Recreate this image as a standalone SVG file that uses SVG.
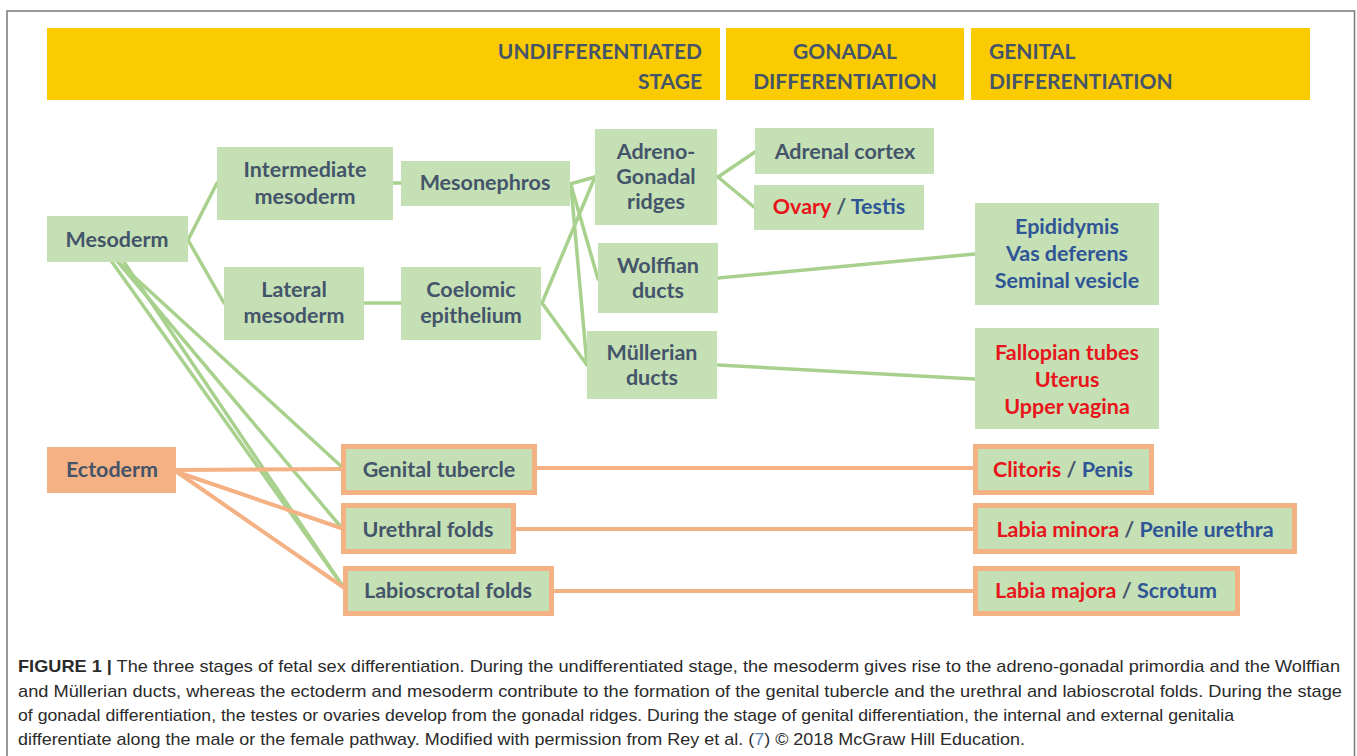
<svg xmlns="http://www.w3.org/2000/svg" width="1357" height="756" viewBox="0 0 1357 756">
<style>
.bg{fill:#ffffff}
.frame{fill:none;stroke:#7a7a7a;stroke-width:1.5}
.hdr{fill:#F9CB00}
.ht{font-family:Lato,'Liberation Sans',sans-serif;font-weight:700;font-size:21px;fill:#44546A}
.box{fill:#C5E0B4}
.obox{fill:#C5E0B4;stroke:#F4B183;stroke-width:5}
.ecto{fill:#F4B183}
.t{font-family:Lato,'Liberation Sans',sans-serif;font-weight:700;font-size:21.5px;fill:#44546A;text-anchor:middle}
.r{fill:#E8141B}
.b{fill:#2F5597}
.gl line{stroke:#A9D18E;stroke-width:3.5;stroke-linecap:round}
.ol line{stroke:#F4B183;stroke-width:4;stroke-linecap:round}
.cap{font-family:'Liberation Sans',Arial,sans-serif;font-size:17px;fill:#2a2a2a}
.cb{font-weight:700}
</style>
<rect class="bg" x="0" y="0" width="1357" height="756"/>
<rect class="frame" x="7" y="11" width="1347.5" height="760"/>

<g id="header">
  <rect class="hdr" x="47" y="28" width="673" height="72"/>
  <rect class="hdr" x="726" y="28" width="238" height="72"/>
  <rect class="hdr" x="971" y="28" width="339" height="72"/>
  <text class="ht" x="702" y="59" text-anchor="end">UNDIFFERENTIATED</text>
  <text class="ht" x="702" y="89" text-anchor="end">STAGE</text>
  <text class="ht" x="845" y="59" text-anchor="middle">GONADAL</text>
  <text class="ht" x="845" y="89" text-anchor="middle">DIFFERENTIATION</text>
  <text class="ht" x="989" y="59">GENITAL</text>
  <text class="ht" x="989" y="89">DIFFERENTIATION</text>
</g>

<g id="connectors">
  <g class="gl">
    <line x1="188" y1="240" x2="217" y2="183"/>
    <line x1="188" y1="240" x2="224" y2="303"/>
    <line x1="393" y1="183" x2="401" y2="183"/>
    <line x1="364" y1="303" x2="401" y2="303"/>
    <line x1="570" y1="184" x2="595" y2="177"/>
    <line x1="571" y1="185" x2="598" y2="279"/>
    <line x1="571" y1="186" x2="587" y2="365"/>
    <line x1="542" y1="303" x2="595" y2="177"/>
    <line x1="542" y1="303" x2="587" y2="365"/>
    <line x1="718" y1="177" x2="755" y2="152"/>
    <line x1="718" y1="177" x2="754" y2="207"/>
    <line x1="718" y1="278" x2="975" y2="254"/>
    <line x1="718" y1="365" x2="975" y2="379"/>
    <line x1="118" y1="262" x2="342" y2="467"/>
    <line x1="118" y1="262" x2="341" y2="527"/>
    <line x1="112" y1="262" x2="344" y2="588"/>
    <line x1="124" y1="262" x2="344" y2="588"/>
  </g>
  <g class="ol">
    <line x1="176" y1="470" x2="341" y2="469"/>
    <line x1="177" y1="472" x2="341" y2="528"/>
    <line x1="177" y1="472" x2="343" y2="587"/>
    <line x1="537" y1="468" x2="973" y2="468"/>
    <line x1="516" y1="529" x2="973" y2="529"/>
    <line x1="554" y1="591" x2="973" y2="591"/>
  </g>
</g>

<g id="mesoderm">
  <rect class="box" x="47" y="216" width="141" height="46"/>
  <text class="t" x="117" y="247">Mesoderm</text>
</g>
<g id="intermediate-mesoderm">
  <rect class="box" x="217" y="147" width="176" height="73"/>
  <text class="t" x="305" y="177">Intermediate</text>
  <text class="t" x="305" y="204">mesoderm</text>
</g>
<g id="mesonephros">
  <rect class="box" x="401" y="161" width="169" height="45"/>
  <text class="t" x="485" y="190">Mesonephros</text>
</g>
<g id="lateral-mesoderm">
  <rect class="box" x="224" y="267" width="140" height="73"/>
  <text class="t" x="294" y="297">Lateral</text>
  <text class="t" x="294" y="323">mesoderm</text>
</g>
<g id="coelomic-epithelium">
  <rect class="box" x="401" y="267" width="140" height="73"/>
  <text class="t" x="471" y="297">Coelomic</text>
  <text class="t" x="471" y="323">epithelium</text>
</g>
<g id="adreno-gonadal-ridges">
  <rect class="box" x="595" y="129" width="122" height="96"/>
  <text class="t" x="656" y="159">Adreno-</text>
  <text class="t" x="656" y="184">Gonadal</text>
  <text class="t" x="656" y="209">ridges</text>
</g>
<g id="wolffian-ducts">
  <rect class="box" x="598" y="243" width="120" height="70"/>
  <text class="t" x="658" y="273">Wolffian</text>
  <text class="t" x="658" y="298">ducts</text>
</g>
<g id="mullerian-ducts">
  <rect class="box" x="587" y="331" width="130" height="68"/>
  <text class="t" x="652" y="360">Müllerian</text>
  <text class="t" x="652" y="385">ducts</text>
</g>
<g id="adrenal-cortex">
  <rect class="box" x="755" y="128" width="179" height="46"/>
  <text class="t" x="845" y="159">Adrenal cortex</text>
</g>
<g id="ovary-testis">
  <rect class="box" x="754" y="185" width="170" height="45"/>
  <text class="t" x="839" y="214"><tspan class="r">Ovary</tspan> / <tspan class="b">Testis</tspan></text>
</g>
<g id="wolffian-derivatives">
  <rect class="box" x="975" y="203" width="184" height="102"/>
  <text class="t b" x="1067" y="234">Epididymis</text>
  <text class="t b" x="1067" y="261">Vas deferens</text>
  <text class="t b" x="1067" y="288">Seminal vesicle</text>
</g>
<g id="mullerian-derivatives">
  <rect class="box" x="975" y="328" width="184" height="101"/>
  <text class="t r" x="1067" y="360">Fallopian tubes</text>
  <text class="t r" x="1067" y="387">Uterus</text>
  <text class="t r" x="1067" y="414">Upper vagina</text>
</g>
<g id="ectoderm">
  <rect class="ecto" x="47" y="447" width="129" height="46"/>
  <text class="t" x="112" y="477">Ectoderm</text>
</g>
<g id="genital-tubercle">
  <rect class="obox" x="343.5" y="446.5" width="191" height="46"/>
  <text class="t" x="439" y="477">Genital tubercle</text>
</g>
<g id="urethral-folds">
  <rect class="obox" x="343.5" y="505.5" width="170" height="46"/>
  <text class="t" x="428" y="537">Urethral folds</text>
</g>
<g id="labioscrotal-folds">
  <rect class="obox" x="345.5" y="568.5" width="206" height="45"/>
  <text class="t" x="448" y="598">Labioscrotal folds</text>
</g>
<g id="clitoris-penis">
  <rect class="obox" x="975.5" y="446.5" width="176" height="46"/>
  <text class="t" x="1063" y="477"><tspan class="r">Clitoris</tspan> / <tspan class="b">Penis</tspan></text>
</g>
<g id="labia-minora-penile-urethra">
  <rect class="obox" x="975.5" y="505.5" width="319" height="46"/>
  <text class="t" x="1135" y="537"><tspan class="r">Labia minora</tspan> / <tspan class="b">Penile urethra</tspan></text>
</g>
<g id="labia-majora-scrotum">
  <rect class="obox" x="975.5" y="568.5" width="262" height="45"/>
  <text class="t" x="1106" y="598"><tspan class="r">Labia majora</tspan> / <tspan class="b">Scrotum</tspan></text>
</g>

<g id="caption">
  <text class="cap" x="18" y="672" textLength="1322" lengthAdjust="spacingAndGlyphs"><tspan class="cb">FIGURE 1 |</tspan> The three stages of fetal sex differentiation. During the undifferentiated stage, the mesoderm gives rise to the adreno-gonadal primordia and the Wolffian</text>
  <text class="cap" x="18" y="697" textLength="1324" lengthAdjust="spacingAndGlyphs">and Müllerian ducts, whereas the ectoderm and mesoderm contribute to the formation of the genital tubercle and the urethral and labioscrotal folds. During the stage</text>
  <text class="cap" x="18" y="721" textLength="1216" lengthAdjust="spacingAndGlyphs">of gonadal differentiation, the testes or ovaries develop from the gonadal ridges. During the stage of genital differentiation, the internal and external genitalia</text>
  <text class="cap" x="18" y="745" textLength="1007" lengthAdjust="spacingAndGlyphs">differentiate along the male or the female pathway. Modified with permission from Rey et al. (<tspan fill="#5a7fb5">7</tspan>) © 2018 McGraw Hill Education.</text>
</g>
</svg>
